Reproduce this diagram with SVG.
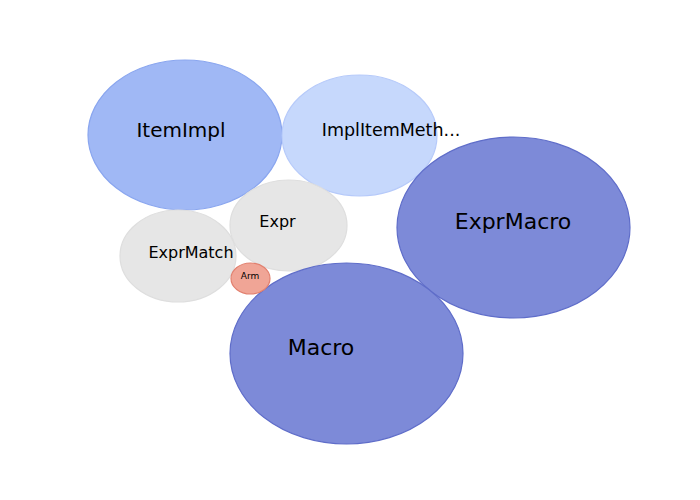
<svg xmlns="http://www.w3.org/2000/svg" width="700" height="500" viewBox="0 0 700 500">
<style>
text{font-family:"DejaVu Sans",sans-serif;fill:#000;text-anchor:middle;dominant-baseline:central}
.blue1{fill:#a0b8f5;stroke:#8aa6ef;stroke-width:1.2}
.blue2{fill:#c6d8fc;stroke:#b6cafa;stroke-width:1.2}
.dark{fill:#7d8ad8;stroke:#5f6dc9;stroke-width:1.2}
.grey{fill:#e6e6e6;stroke:#dedede;stroke-width:1.2}
.red{fill:#f0a596;stroke:#e2806f;stroke-width:1.2}
</style>
<rect width="700" height="500" fill="#fff"/>
<g id="connectors"></g>
<g id="ItemImpl"><ellipse class="blue1" cx="185" cy="135" rx="97" ry="75"/><text x="181" y="130" font-size="20">ItemImpl</text></g>
<g id="ImplItemMeth"><ellipse class="blue2" cx="359.5" cy="135.5" rx="77.5" ry="60.5"/><text x="391" y="130" font-size="17.5">ImplItemMeth...</text></g>
<g id="ExprMacro"><ellipse class="dark" cx="513.5" cy="227.5" rx="116.5" ry="90.5"/><text x="513" y="221" font-size="22">ExprMacro</text></g>
<g id="Expr"><ellipse class="grey" cx="288.5" cy="225.5" rx="58.5" ry="45.5"/><text x="277.5" y="221" font-size="16">Expr</text></g>
<g id="ExprMatch"><ellipse class="grey" cx="178" cy="256" rx="58" ry="46"/><text x="191" y="252" font-size="16">ExprMatch</text></g>
<g id="Macro"><ellipse class="dark" cx="346.5" cy="353.5" rx="116.5" ry="90.5"/><text x="321" y="347" font-size="22">Macro</text></g>
<g id="Arm"><ellipse class="red" cx="250.5" cy="278.5" rx="19.5" ry="15.5"/><text x="250" y="276" font-size="9">Arm</text></g>
</svg>
